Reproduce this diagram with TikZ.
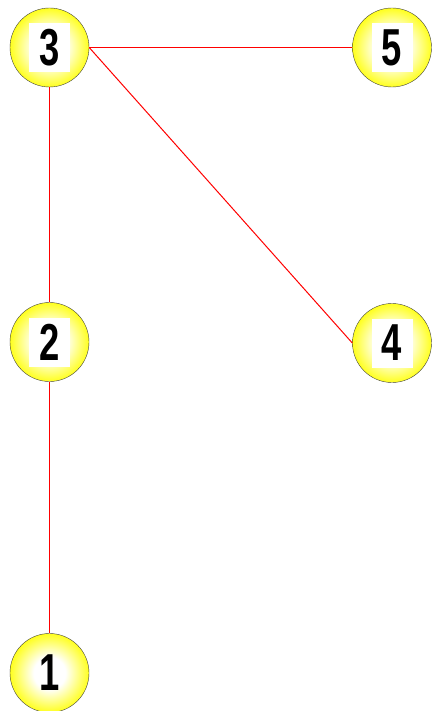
\documentclass[tikz,border=0pt]{standalone}
\usepackage{fontspec}
\setmainfont{Liberation Sans}
\usepackage{tikz}
\usetikzlibrary{positioning}
\pgfdeclareradialshading{yellowball}{\pgfpoint{0bp}{0bp}}{color(0bp)=(white); color(10bp)=(white); color(27bp)=(yellow); color(50bp)=(yellow)}
\newcommand{\narrownum}[1]{\scalebox{0.7}[1]{#1}}

\begin{document}
\begin{tikzpicture}[x=1pt,y=-1pt,
ball/.style={circle,draw=black!75,thin,minimum size=79pt,inner sep=0pt,shading=yellowball},
num/.style={fill=white,inner sep=0pt,minimum width=41pt,minimum height=49pt,font=\fontsize{52}{52}\selectfont\bfseries},
edge/.style={red,line width=1pt}]
\useasboundingbox (0,0) rectangle (432,711);
\node[ball] (v3) at (49.5,47.5) {};
\node[ball] (v5) at (392,47.5) {};
\node[ball] (v2) at (49.5,342) {};
\node[ball] (v4) at (392,343) {};
\node[ball] (v1) at (49.5,673) {};
\draw[edge] (v3.east)--(v5.west);
\draw[edge] (v3.east)--(v4.west);
\draw[edge] (v3.south)--(v2.north);
\draw[edge] (v2.south)--(v1.north);
\node[num] at (v3) {\narrownum{3}};
\node[num] at (v5) {\narrownum{5}};
\node[num] at (v2) {\narrownum{2}};
\node[num] at (v4) {\narrownum{4}};
\node[num,fill=none] at (v1) {\narrownum{1}};
\end{tikzpicture}
\end{document}
